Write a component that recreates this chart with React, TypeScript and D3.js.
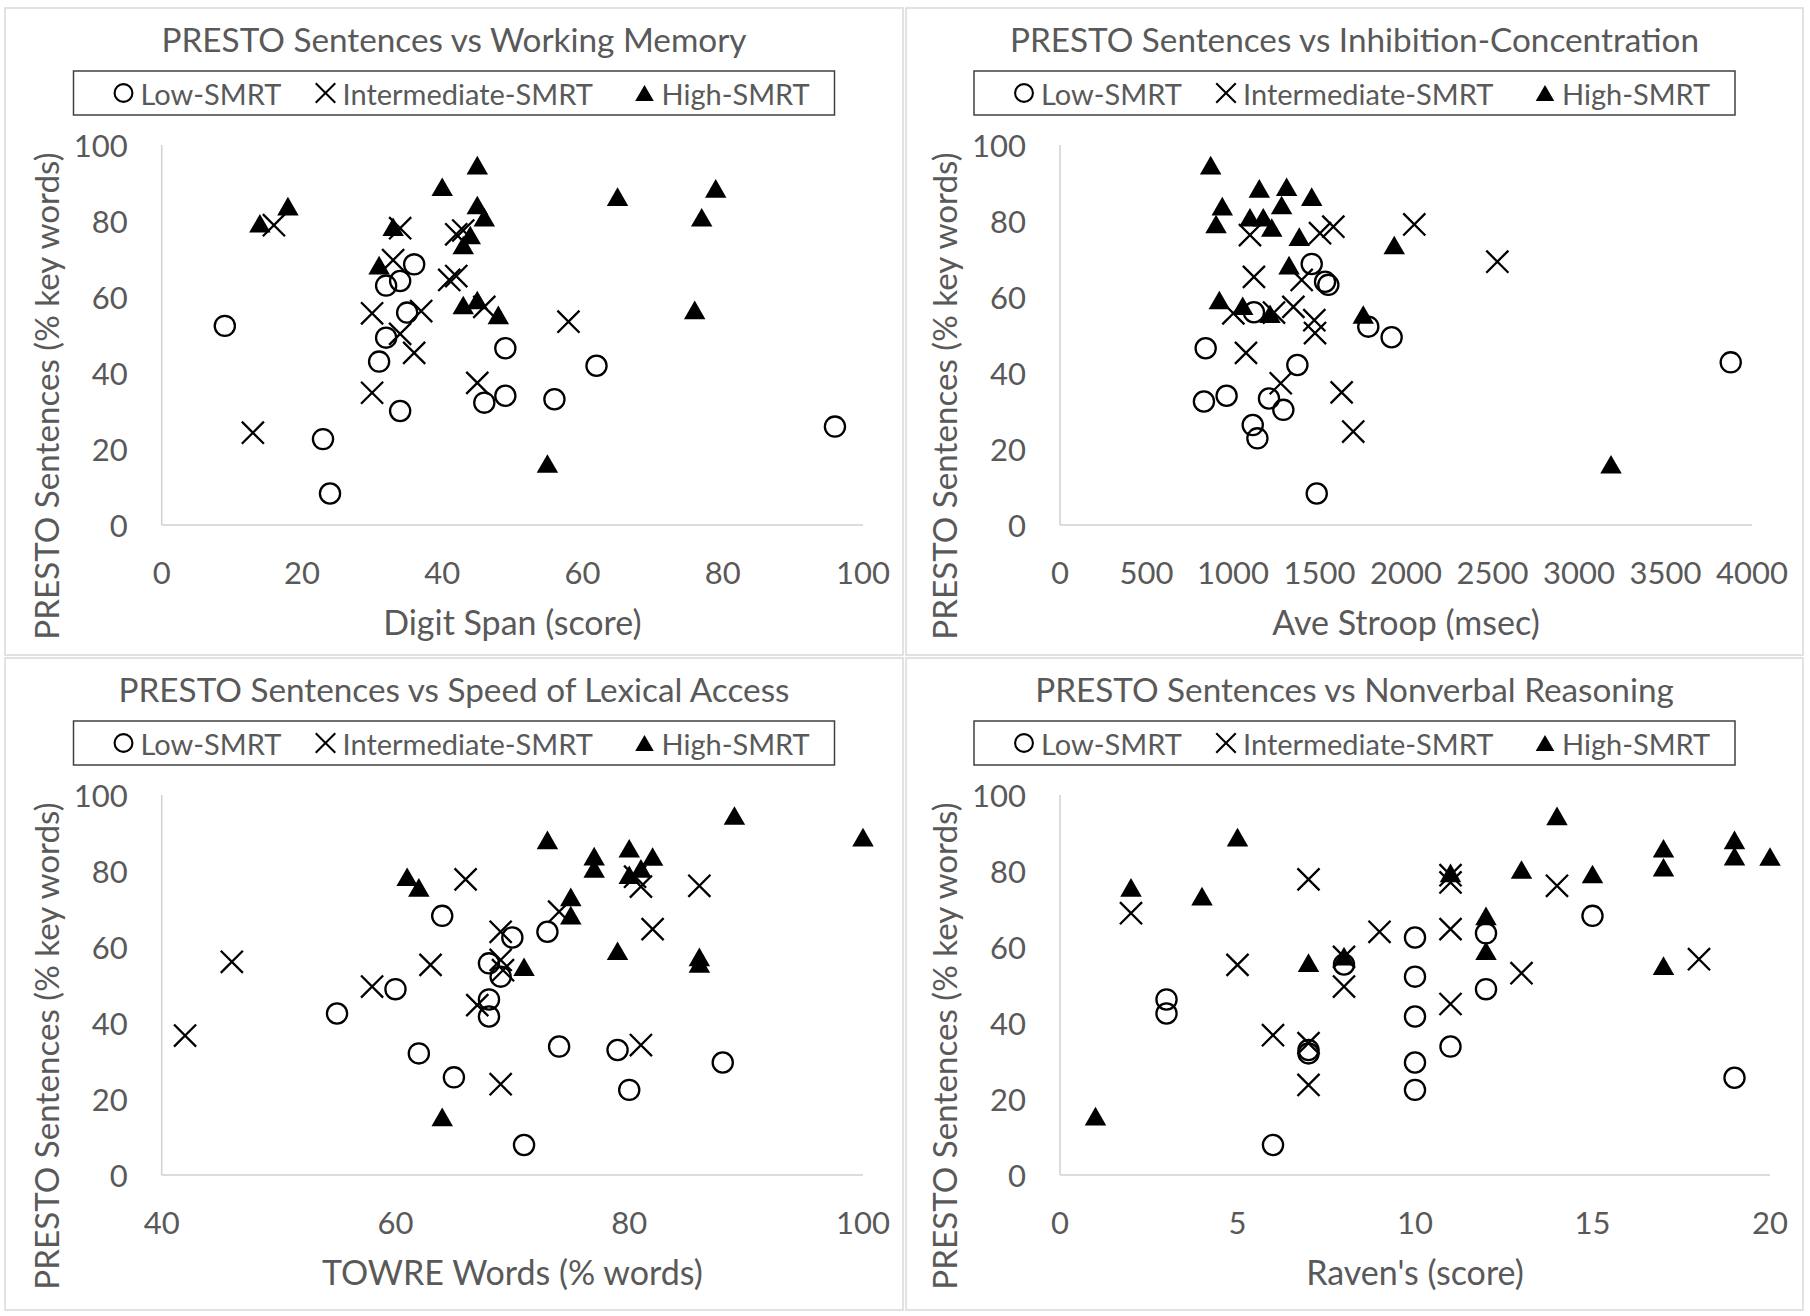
import React, { useEffect, useRef } from 'react';
import * as d3 from 'd3';

const W = 1810;
const H = 1316;

const groups = ['Low-SMRT', 'Intermediate-SMRT', 'High-SMRT'];
const yTicks = [0, 20, 40, 60, 80, 100];
const yLabel = 'PRESTO Sentences (% key words)';

// Working memory (Digit Span)
const spanLow = [[9, 52.4], [23, 22.6], [24, 8.3], [31, 43.0], [32, 63.0], [32, 49.3], [34, 64.2], [34, 30.0], [35, 55.9], [36, 68.6], [46, 32.2], [49, 46.5], [49, 34.0], [56, 33.1], [62, 41.9], [96, 25.9]];
const spanMid = [[16, 78.9], [13, 24.3], [34, 78.1], [33, 69.7], [30, 55.7], [30, 34.8], [37, 56.3], [34, 50.3], [36, 45.3], [42, 76.5], [43, 77.5], [41, 64.5], [42, 65.5], [46, 57.4], [45, 37.4], [58, 53.5]];
const spanHigh = [[18, 83.9], [14, 79.4], [45, 94.7], [40, 89.0], [45, 84.2], [46, 81.0], [33, 78.5], [44, 76.3], [43, 73.7], [31, 68.4], [43, 57.9], [45, 59.2], [48, 55.3], [65, 86.4], [79, 88.6], [77, 81.0], [76, 56.6], [55, 16.2]];

// Inhibition-concentration (Stroop)
const stroopLow = [[842, 46.5], [832, 32.5], [963, 34.0], [1114, 26.3], [1141, 22.8], [1121, 56.0], [1208, 33.3], [1291, 30.3], [1372, 42.1], [1455, 68.7], [1532, 64.0], [1551, 63.2], [1782, 52.2], [1917, 49.4], [1484, 8.3], [3877, 42.8]];
const stroopMid = [[1098, 76.3], [1121, 65.3], [1503, 76.8], [1580, 78.5], [2048, 79.1], [2528, 69.3], [1397, 64.5], [1002, 55.7], [1237, 55.9], [1349, 57.4], [1470, 53.9], [1474, 50.5], [1075, 45.3], [1276, 37.3], [1628, 34.9], [1695, 24.6]];
const stroopHigh = [[871, 94.7], [1152, 88.6], [1310, 89.0], [1455, 86.4], [938, 83.9], [1281, 84.2], [902, 79.2], [1098, 81.0], [1175, 81.0], [1224, 78.3], [1383, 75.9], [1932, 73.7], [1324, 68.4], [921, 59.2], [1056, 57.7], [1214, 55.6], [1753, 55.4], [3185, 16.0]];

// Speed of lexical access (TOWRE)
const towreLow = [[64, 68.2], [70, 62.5], [68, 55.7], [69, 52.2], [68, 46.2], [68, 41.7], [60, 48.9], [55, 42.5], [62, 32.0], [65, 25.7], [71, 7.9], [73, 64.0], [74, 33.8], [79, 32.9], [80, 22.4], [88, 29.6]];
const towreMid = [[66, 77.8], [69, 64.0], [63, 55.3], [58, 49.6], [46, 56.1], [42, 36.7], [67, 44.7], [69, 23.9], [69, 56.6], [69.2, 53.9], [74, 69.3], [81, 75.9], [86, 76.1], [82, 64.7], [81, 34.2], [80.5, 78.5]];
const towreHigh = [[61, 78.5], [62, 75.7], [64, 15.3], [71, 54.8], [73, 88.2], [89, 94.6], [100, 88.9], [77, 83.9], [77, 80.7], [80, 86.0], [82, 83.8], [80, 79.0], [81, 80.7], [75, 73.2], [75, 68.4], [79, 59.0], [86, 57.4], [86, 55.7]];

// Nonverbal reasoning (Raven's)
const ravenLow = [[3, 46.2], [3, 42.5], [6, 7.9], [7, 32.9], [7, 32.0], [8, 55.4], [10, 62.5], [10, 52.2], [10, 41.7], [10, 29.6], [10, 22.4], [11, 33.8], [12, 48.9], [12, 63.6], [15, 68.2], [19, 25.6]];
const ravenMid = [[2, 68.9], [7, 77.8], [9, 64.0], [5, 55.3], [8, 57.4], [8, 49.6], [6, 36.8], [7, 34.7], [7, 23.7], [11, 78.9], [11, 77.0], [11, 64.7], [11, 45.0], [14, 76.1], [13, 53.1], [18, 56.8]];
const ravenHigh = [[5, 88.9], [2, 75.7], [4, 73.4], [7, 55.9], [8, 57.6], [1, 15.5], [11, 79.5], [12, 68.2], [12, 59.0], [13, 80.4], [14, 94.5], [15, 79.2], [17, 86.0], [17, 81.0], [17, 55.1], [19, 88.2], [19, 83.9], [20, 83.8]];

const panels = [
    { title: 'PRESTO Sentences vs Working Memory', xLabel: 'Digit Span (score)', xDomain: [0, 100], xTicks: [0, 20, 40, 60, 80, 100],
      box: [5, 8, 898, 647], plot: [161.7, 863, 145, 525], series: [spanLow, spanMid, spanHigh] },
    { title: 'PRESTO Sentences vs Inhibition-Concentration', xLabel: 'Ave Stroop (msec)', xDomain: [0, 4000], xTicks: [0, 500, 1000, 1500, 2000, 2500, 3000, 3500, 4000],
      box: [906, 8, 897, 647], plot: [1060, 1752, 145, 525], series: [stroopLow, stroopMid, stroopHigh] },
    { title: 'PRESTO Sentences vs Speed of Lexical Access', xLabel: 'TOWRE Words (% words)', xDomain: [40, 100], xTicks: [40, 60, 80, 100],
      box: [5, 658, 898, 652], plot: [161.7, 863, 795, 1175], series: [towreLow, towreMid, towreHigh] },
    { title: 'PRESTO Sentences vs Nonverbal Reasoning', xLabel: "Raven's (score)", xDomain: [0, 20], xTicks: [0, 5, 10, 15, 20],
      box: [906, 658, 897, 652], plot: [1060, 1770, 795, 1175], series: [ravenLow, ravenMid, ravenHigh] },
];

const FONT = "Lato, 'Open Sans', sans-serif";
const TEXT = '#595959';

const App = () => {
    const ref = useRef(null);

    useEffect(() => {
        const svg = d3.select(ref.current);
        svg.selectAll('*').remove();

        svg.append('rect').attr('width', W).attr('height', H).attr('fill', '#fff');

        const symbols = [d3.symbolCircle, d3.symbolTimes, d3.symbolTriangle];
        const drawMarker = (g, k, x, y, big) => {
            const size = k === 2 ? (big ? 200 : 150) : (big ? 320 : 250);
            const path = d3.symbol(symbols[k], size)();
            // centre the triangle on its box, like the spreadsheet markers
            const dy = k === 2 ? Math.sqrt(size / (3 * Math.sqrt(3))) / 2 : 0;
            const m = g.append('path')
                .attr('d', path)
                .attr('transform', `translate(${x},${y + dy})`);
            if (k === 2) m.attr('fill', '#000');
            else m.attr('fill', 'none').attr('stroke', '#000').attr('stroke-width', big ? 2.3 : 2.1);
        };

        panels.forEach(p => {
            const [bx, by, bw, bh] = p.box;
            const [left, right, top, bottom] = p.plot;
            const g = svg.append('g');

            g.append('rect')
                .attr('x', bx).attr('y', by).attr('width', bw).attr('height', bh)
                .attr('fill', '#fff').attr('stroke', '#d9d9d9').attr('stroke-width', 1.5);

            const x = d3.scaleLinear().domain(p.xDomain).range([left, right]);
            const y = d3.scaleLinear().domain([0, 100]).range([bottom, top]);
            const cx = bx + bw / 2;

            // title
            g.append('text')
                .attr('x', cx).attr('y', by + 30.5)
                .attr('text-anchor', 'middle').attr('dominant-baseline', 'central')
                .style('font-family', FONT).style('font-size', '33.3px').attr('fill', TEXT)
                .text(p.title);

            // legend
            const lw = 761, lt = by + 63, lh = 44;
            g.append('rect')
                .attr('x', cx - lw / 2).attr('y', lt).attr('width', lw).attr('height', lh)
                .attr('fill', '#fff').attr('stroke', '#404040').attr('stroke-width', 1.5);
            const itemX = [-330.5, -128.5, 190.5];
            groups.forEach((name, k) => {
                drawMarker(g, k, cx + itemX[k], lt + lh / 2, false);
                g.append('text')
                    .attr('x', cx + itemX[k] + 17).attr('y', lt + lh / 2)
                    .attr('dominant-baseline', 'central')
                    .style('font-family', FONT).style('font-size', '29px').attr('fill', TEXT)
                    .text(name);
            });

            // axes lines
            g.append('line').attr('x1', left).attr('x2', left).attr('y1', top).attr('y2', bottom)
                .attr('stroke', '#d0d0d0').attr('stroke-width', 1.5);
            g.append('line').attr('x1', left).attr('x2', right).attr('y1', bottom).attr('y2', bottom)
                .attr('stroke', '#d0d0d0').attr('stroke-width', 1.5);

            // tick labels
            g.selectAll('.yt').data(yTicks).enter().append('text')
                .attr('x', left - 34).attr('y', d => y(d))
                .attr('text-anchor', 'end').attr('dominant-baseline', 'central')
                .style('font-family', FONT).style('font-size', '31px').attr('fill', TEXT)
                .text(d => d);
            g.selectAll('.xt').data(p.xTicks).enter().append('text')
                .attr('x', d => x(d)).attr('y', bottom + 47)
                .attr('text-anchor', 'middle').attr('dominant-baseline', 'central')
                .style('font-family', FONT).style('font-size', '31px').attr('fill', TEXT)
                .text(d => d);

            // axis titles
            g.append('text')
                .attr('x', (left + right) / 2).attr('y', bottom + 96)
                .attr('text-anchor', 'middle').attr('dominant-baseline', 'central')
                .style('font-family', FONT).style('font-size', '34px').attr('fill', TEXT)
                .text(p.xLabel);
            g.append('text')
                .attr('transform', `translate(${left - 116},${top + 251}) rotate(-90)`)
                .attr('text-anchor', 'middle').attr('dominant-baseline', 'central')
                .style('font-family', FONT).style('font-size', '33.2px').attr('fill', TEXT)
                .text(yLabel);

            // points
            p.series.forEach((pts, k) => {
                pts.forEach(d => drawMarker(g, k, x(d[0]), y(d[1]), true));
            });
        });
    }, []);

    return (
        <svg ref={ref} width={W} height={H}
            style={{ position: 'absolute', left: 0, top: 0, display: 'block' }} />
    );
};

export default App;
